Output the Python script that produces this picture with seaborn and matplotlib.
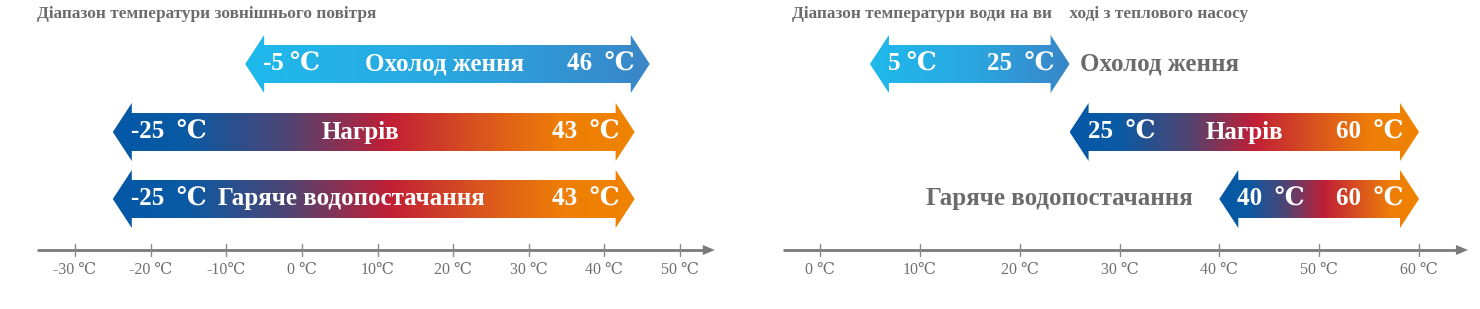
import numpy as np
import matplotlib
matplotlib.use("Agg")
import matplotlib.pyplot as plt
from matplotlib.colors import LinearSegmentedColormap
from matplotlib.patches import Polygon
import seaborn as sns

# ---------------- data ----------------
air_title = "Діапазон температури зовнішнього повітря"
air_ticks = [-30, -20, -10, 0, 10, 20, 30, 40, 50]
air_tick_labels = ["-30 ℃", "-20 ℃", "-10℃", "0 ℃", "10℃", "20 ℃", "30 ℃", "40 ℃", "50 ℃"]
air_modes = ["Охолод ження", "Нагрів", "Гаряче водопостачання"]
air_lo = [-7.5, -25, -25]          # drawn arrow extents (tip to tip)
air_hi = [46, 44, 44]
air_lo_labels = ["-5 ℃", "-25  ℃", "-25  ℃"]
air_hi_labels = ["46  ℃", "43  ℃", "43  ℃"]

water_title = "Діапазон температури води на ви    ході з теплового насосу"
water_ticks = [0, 10, 20, 30, 40, 50, 60]
water_tick_labels = ["0 ℃", "10℃", "20 ℃", "30 ℃", "40 ℃", "50 ℃", "60 ℃"]
water_modes = ["Охолод ження", "Нагрів", "Гаряче водопостачання"]
water_lo = [5, 25, 40]
water_hi = [25, 60, 60]
water_lo_labels = ["5 ℃", "25  ℃", "40  ℃"]
water_hi_labels = ["25  ℃", "60  ℃", "60  ℃"]

# ---------------- style ----------------
sns.set_theme(style="white")
plt.rcParams["font.family"] = ["Liberation Serif", "DejaVu Serif", "Noto Sans CJK SC"]

W, H, DPI = 1480, 309, 100
fig = plt.figure(figsize=(W / DPI, H / DPI), dpi=DPI)
fig.patch.set_facecolor("white")

cool_cmap = LinearSegmentedColormap.from_list("cool", ["#1fb9ec", "#2aa7e0", "#3a86c8"])
warm_cmap = LinearSegmentedColormap.from_list(
    "warm",
    [(0.0, "#0458a6"), (0.14, "#0a5aa4"), (0.33, "#4d4574"), (0.53, "#c11f36"),
     (0.7, "#d9531f"), (0.86, "#ee7e08"), (1.0, "#f08300")])

ROW_Y = [64, 132, 199]      # row centres in pixel rows
BODY_H = 38                 # arrow shaft height (px)
HEAD_H = 58                 # arrow head height (px)
HEAD_L = 19                 # arrow head length (px)
AXIS_Y = 250
GRAY = "#6b6b6b"


def make_axes(x0_px, x1_px, v0, v0_px, v1, v1_px):
    scale = (v1_px - v0_px) / (v1 - v0)
    ax = fig.add_axes([x0_px / W, 0, (x1_px - x0_px) / W, 1])
    ax.set_xlim(v0 - (v0_px - x0_px) / scale, v1 + (x1_px - v1_px) / scale)
    ax.set_ylim(H, 0)
    ax.axis("off")
    return ax, scale


def double_arrow(ax, scale, lo, hi, y, cmap):
    hl = HEAD_L / scale
    pts = [(lo, y), (lo + hl, y - HEAD_H / 2), (lo + hl, y - BODY_H / 2),
           (hi - hl, y - BODY_H / 2), (hi - hl, y - HEAD_H / 2), (hi, y),
           (hi - hl, y + HEAD_H / 2), (hi - hl, y + BODY_H / 2),
           (lo + hl, y + BODY_H / 2), (lo + hl, y + HEAD_H / 2)]
    poly = Polygon(pts, closed=True, facecolor="none", edgecolor="none")
    ax.add_patch(poly)
    grad = np.linspace(0, 1, 256).reshape(1, -1)
    im = ax.imshow(grad, cmap=cmap, aspect="auto",
                   extent=[lo, hi, y + HEAD_H / 2, y - HEAD_H / 2],
                   interpolation="bilinear", zorder=2)
    im.set_clip_path(poly)
    return hl


def draw_axis(ax, scale, ticks, labels, x_end):
    lo = ax.get_xlim()[0]
    ax.plot([lo, x_end], [AXIS_Y, AXIS_Y], color="#7a7a7a", lw=2, zorder=1,
            solid_capstyle="butt")
    al = 12 / scale
    ax.add_patch(Polygon([(x_end, AXIS_Y - 5), (x_end + al, AXIS_Y), (x_end, AXIS_Y + 5)],
                         closed=True, facecolor="#7a7a7a", edgecolor="none"))
    for t, lab in zip(ticks, labels):
        ax.plot([t, t], [AXIS_Y - 6, AXIS_Y + 6], color="#8a8a8a", lw=1)
        ax.text(t, AXIS_Y + 20, lab, ha="center", va="center", fontsize=11.5,
                color="#707070")


txt_kw = dict(color="white", fontsize=18, fontweight="bold", va="center")
LO_PAD = -1   # px from head base to start of low label
HI_PAD = 4    # px past head base for end of high label

# ---------------- left panel ----------------
axL, sL = make_axes(37, 715, -30, 75, 50, 680)
draw_axis(axL, sL, air_ticks, air_tick_labels, 54.6 - 12 / sL)
fig.text(37 / W, 1 - 14 / H, air_title, fontsize=12.4, fontweight="bold",
         color=GRAY, va="center", ha="left")
air_mid = [18.9, 7.8, 6.6]
for i in range(3):
    cm = cool_cmap if i == 0 else warm_cmap
    hl = double_arrow(axL, sL, air_lo[i], air_hi[i], ROW_Y[i], cm)
    axL.text(air_lo[i] + hl + LO_PAD / sL, ROW_Y[i], air_lo_labels[i], ha="left", zorder=3, **txt_kw)
    axL.text(air_hi[i] - hl + HI_PAD / sL, ROW_Y[i], air_hi_labels[i], ha="right", zorder=3, **txt_kw)
    axL.text(air_mid[i], ROW_Y[i], air_modes[i], ha="center", zorder=3, **txt_kw)

# ---------------- right panel ----------------
axR, sR = make_axes(783, 1468, 0, 820, 60, 1419)
draw_axis(axR, sR, water_ticks, water_tick_labels, 64.9 - 12 / sR)
fig.text(792 / W, 1 - 14 / H, water_title, fontsize=12.4, fontweight="bold",
         color=GRAY, va="center", ha="left")
for i in range(3):
    cm = cool_cmap if i == 0 else warm_cmap
    hl = double_arrow(axR, sR, water_lo[i], water_hi[i], ROW_Y[i], cm)
    axR.text(water_lo[i] + hl + LO_PAD / sR, ROW_Y[i], water_lo_labels[i], ha="left", zorder=3, **txt_kw)
    axR.text(water_hi[i] - hl + HI_PAD / sR, ROW_Y[i], water_hi_labels[i], ha="right", zorder=3, **txt_kw)
# mode labels
axR.text(water_hi[0] + 10 / sR, ROW_Y[0], water_modes[0], ha="left", zorder=3,
         **{**txt_kw, "color": GRAY})
axR.text((water_lo[1] + water_hi[1]) / 2, ROW_Y[1], water_modes[1], ha="center", zorder=3, **txt_kw)
axR.text(water_lo[2] - 27 / sR, ROW_Y[2], water_modes[2], ha="right", zorder=3,
         **{**txt_kw, "color": GRAY})

fig.savefig("out.png", dpi=DPI, facecolor="white")
